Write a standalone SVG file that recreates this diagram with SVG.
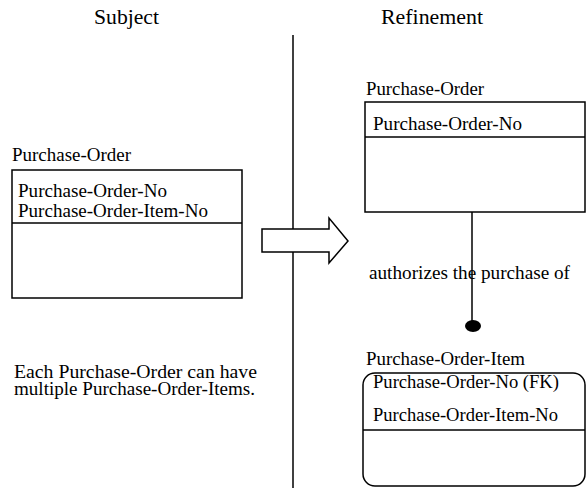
<svg xmlns="http://www.w3.org/2000/svg" width="586" height="488" viewBox="0 0 586 488">
<defs>
<rect id="bg" width="586" height="488" fill="#fff"/>
</defs>
<use href="#bg"/>
<g id="headers" font-family="Liberation Serif" font-size="22" fill="#000">
<text x="94" y="24" textLength="65" lengthAdjust="spacingAndGlyphs">Subject</text>
<text x="381" y="24" textLength="102" lengthAdjust="spacingAndGlyphs">Refinement</text>
</g>
<g id="divider"><line x1="293" y1="35" x2="293" y2="488" stroke="#000" stroke-width="1.5"/></g>
<g id="subject-po" font-family="Liberation Serif" font-size="19" fill="#000" stroke-width="1.5">
<text x="12" y="161" textLength="119" lengthAdjust="spacingAndGlyphs">Purchase-Order</text>
<rect x="12" y="170" width="230" height="128" fill="#fff" stroke="#000"/>
<line x1="12" y1="223" x2="242" y2="223" stroke="#000"/>
<text x="18" y="197" textLength="149" lengthAdjust="spacingAndGlyphs">Purchase-Order-No</text>
<text x="18" y="217" textLength="190" lengthAdjust="spacingAndGlyphs">Purchase-Order-Item-No</text>
</g>
<g id="note" font-family="Liberation Serif" font-size="18.5" fill="#000">
<text x="14" y="378" textLength="243" lengthAdjust="spacingAndGlyphs">Each Purchase-Order can have</text>
<text x="14" y="395" textLength="241" lengthAdjust="spacingAndGlyphs">multiple Purchase-Order-Items.</text>
</g>
<g id="arrow"><polygon points="262,229 329,229 329,218 348,241 329,263 329,252 262,252" fill="#fff" stroke="#000" stroke-width="1.5"/></g>
<g id="refine-po" font-family="Liberation Serif" font-size="19" fill="#000" stroke-width="1.5">
<text x="366" y="95" textLength="118" lengthAdjust="spacingAndGlyphs">Purchase-Order</text>
<rect x="365" y="102" width="220" height="110" fill="#fff" stroke="#000"/>
<line x1="365" y1="137" x2="585" y2="137" stroke="#000"/>
<text x="373" y="130" textLength="149" lengthAdjust="spacingAndGlyphs">Purchase-Order-No</text>
</g>
<g id="connectors" font-family="Liberation Serif" font-size="19" fill="#000">
<line x1="472" y1="212" x2="472" y2="322" stroke="#000" stroke-width="1.5"/>
<ellipse cx="473" cy="326" rx="8" ry="6" fill="#000"/>
<text x="369" y="279" textLength="201" lengthAdjust="spacingAndGlyphs">authorizes the purchase of</text>
</g>
<g id="refine-poi" font-family="Liberation Serif" font-size="19" fill="#000" stroke-width="1.5">
<text x="366" y="365" textLength="159" lengthAdjust="spacingAndGlyphs">Purchase-Order-Item</text>
<rect x="363" y="373" width="222" height="113" rx="12" ry="12" fill="#fff" stroke="#000"/>
<line x1="363" y1="430" x2="585" y2="430" stroke="#000"/>
<text x="373" y="388" textLength="186" lengthAdjust="spacingAndGlyphs">Purchase-Order-No (FK)</text>
<text x="373" y="421" textLength="185" lengthAdjust="spacingAndGlyphs">Purchase-Order-Item-No</text>
</g>
</svg>
